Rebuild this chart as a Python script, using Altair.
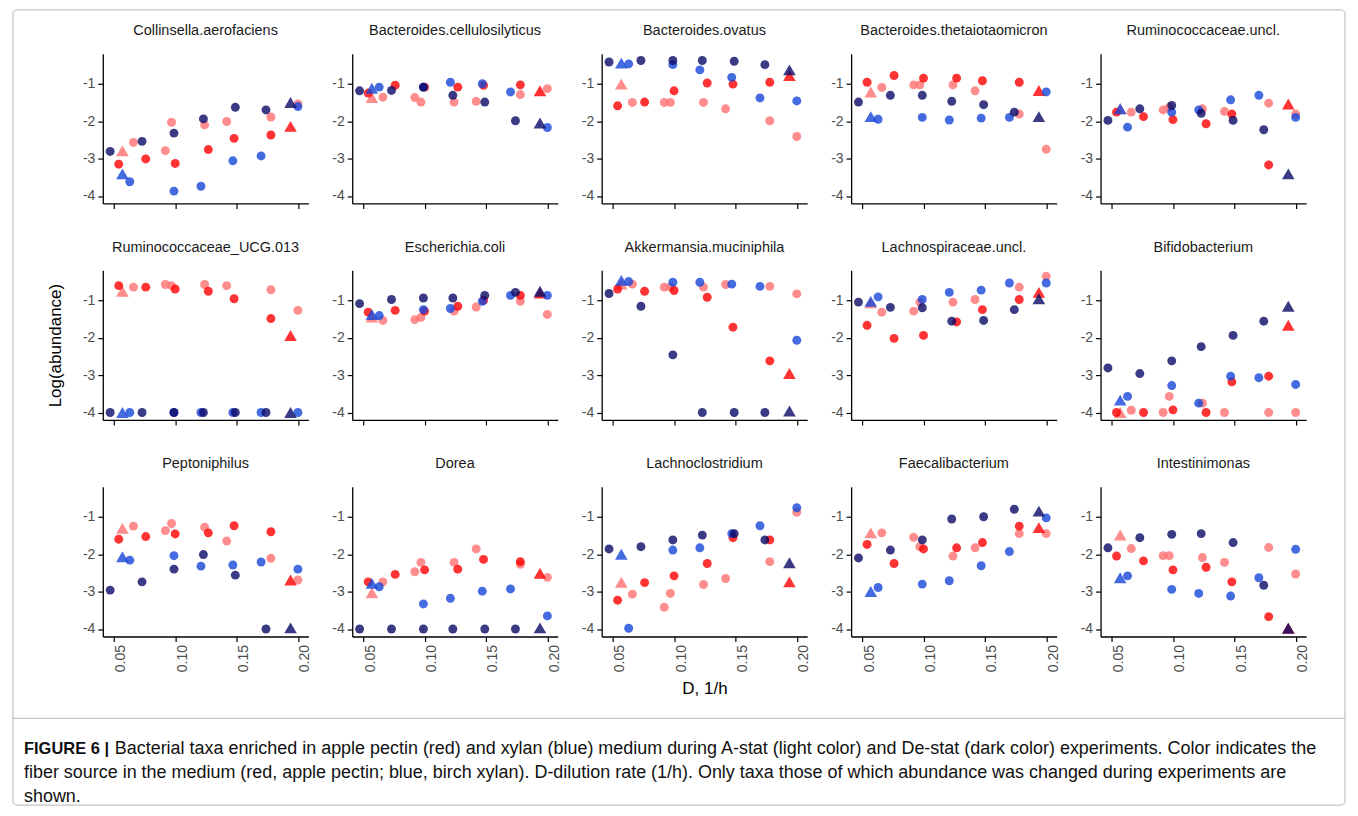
import altair as alt
import pandas as pd

FONT = "Liberation Sans"

# Dilution rates (1/h). A-stat series start with a triangle, De-stat series end with one.
D_A_PECTIN = [0.057, 0.066, 0.092, 0.097, 0.124, 0.142, 0.178, 0.200]
D_D_PECTIN = [0.054, 0.076, 0.100, 0.127, 0.148, 0.178, 0.194]
D_A_XYLAN = [0.057, 0.063, 0.099, 0.121, 0.147, 0.170, 0.200]
D_D_XYLAN = [0.047, 0.073, 0.099, 0.123, 0.149, 0.174, 0.194]

SERIES = ["A-stat pectin", "De-stat pectin", "A-stat xylan", "De-stat xylan"]
COLORS = ["#ff7070", "#ff0000", "#1646d9", "#0a0a66"]

TAXA = [
    "Collinsella.aerofaciens", "Bacteroides.cellulosilyticus", "Bacteroides.ovatus",
    "Bacteroides.thetaiotaomicron", "Ruminococcaceae.uncl.",
    "Ruminococcaceae_UCG.013", "Escherichia.coli", "Akkermansia.muciniphila",
    "Lachnospiraceae.uncl.", "Bifidobacterium",
    "Peptoniphilus", "Dorea", "Lachnoclostridium", "Faecalibacterium", "Intestinimonas",
]

# Log(abundance) per taxon: pA = A-stat pectin, pD = De-stat pectin, xA = A-stat xylan, xD = De-stat xylan
collinsella = dict(pA=[-2.79, -2.57, -2.79, -2.03, -2.10, -2.01, -1.89, -1.54],
                   pD=[-3.15, -3.01, -3.13, -2.76, -2.46, -2.37, -2.14],
                   xA=[-3.41, -3.62, -3.87, -3.74, -3.06, -2.93, -1.61],
                   xD=[-2.81, -2.54, -2.32, -1.94, -1.63, -1.70, -1.50])
b_cellulosilyticus = dict(pA=[-1.37, -1.36, -1.37, -1.49, -1.49, -1.47, -1.29, -1.13],
                          pD=[-1.25, -1.04, -1.09, -1.09, -1.04, -1.03, -1.19],
                          xA=[-1.12, -1.09, -1.09, -0.96, -1.00, -1.22, -2.17],
                          xD=[-1.19, -1.18, -1.09, -1.31, -1.49, -1.99, -2.05])
b_ovatus = dict(pA=[-1.01, -1.50, -1.50, -1.50, -1.50, -1.67, -1.99, -2.41],
                pD=[-1.59, -1.49, -1.19, -0.98, -1.01, -0.96, -0.78],
                xA=[-0.45, -0.47, -0.49, -0.63, -0.83, -1.38, -1.46],
                xD=[-0.42, -0.38, -0.38, -0.38, -0.40, -0.49, -0.63])
b_theta = dict(pA=[-1.22, -1.10, -1.03, -1.03, -1.03, -1.19, -1.81, -2.75],
               pD=[-0.96, -0.78, -0.85, -0.85, -0.92, -0.96, -1.18],
               xA=[-1.88, -1.95, -1.90, -1.97, -1.92, -1.90, -1.22],
               xD=[-1.49, -1.31, -1.31, -1.47, -1.56, -1.76, -1.88])
rumino_uncl = dict(pA=[-1.67, -1.76, -1.70, -1.63, -1.67, -1.74, -1.52, -1.81],
                   pD=[-1.76, -1.88, -1.96, -2.07, -1.81, -3.17, -1.54],
                   xA=[-1.67, -2.16, -1.76, -1.70, -1.43, -1.31, -1.90],
                   xD=[-1.98, -1.67, -1.58, -1.79, -1.98, -2.23, -3.41])
rumino_ucg013 = dict(pA=[-0.76, -0.65, -0.58, -0.61, -0.58, -0.61, -0.72, -1.27],
                     pD=[-0.61, -0.65, -0.70, -0.76, -0.96, -1.49, -1.94],
                     xA=[-4.0, -4.0, -4.0, -4.0, -4.0, -4.0, -4.0],
                     xD=[-4.0, -4.0, -4.0, -4.0, -4.0, -4.0, -4.0])
e_coli = dict(pA=[-1.45, -1.54, -1.52, -1.46, -1.29, -1.18, -1.03, -1.38],
              pD=[-1.32, -1.27, -1.29, -1.16, -1.00, -0.87, -0.81],
              xA=[-1.38, -1.41, -1.25, -1.22, -1.03, -0.87, -0.87],
              xD=[-1.09, -0.98, -0.94, -0.94, -0.87, -0.79, -0.76])
akkermansia = dict(pA=[-0.57, -0.57, -0.65, -0.65, -0.65, -0.58, -0.63, -0.83],
                   pD=[-0.70, -0.76, -0.74, -0.92, -1.72, -2.62, -2.96],
                   xA=[-0.47, -0.50, -0.52, -0.52, -0.57, -0.63, -2.07],
                   xD=[-0.82, -1.16, -2.46, -4.00, -4.00, -4.00, -3.96])
lachnospir_uncl = dict(pA=[-1.07, -1.32, -1.29, -1.05, -1.05, -0.98, -0.65, -0.36],
                       pD=[-1.67, -2.02, -1.94, -1.58, -1.25, -0.98, -0.79],
                       xA=[-1.03, -0.91, -0.98, -0.79, -0.73, -0.54, -0.54],
                       xD=[-1.05, -1.19, -1.20, -1.56, -1.54, -1.25, -0.96])
bifido = dict(pA=[-4.00, -3.94, -4.00, -3.57, -3.75, -4.00, -4.00, -4.00],
              pD=[-4.00, -4.00, -3.93, -4.00, -3.18, -3.03, -1.67],
              xA=[-3.67, -3.57, -3.28, -3.75, -3.03, -3.07, -3.25],
              xD=[-2.81, -2.96, -2.62, -2.24, -1.94, -1.56, -1.16])
peptoniphilus = dict(pA=[-1.31, -1.25, -1.37, -1.18, -1.28, -1.65, -2.11, -2.69],
                     pD=[-1.60, -1.53, -1.46, -1.43, -1.24, -1.40, -2.69],
                     xA=[-2.07, -2.16, -2.04, -2.32, -2.29, -2.21, -2.40],
                     xD=[-2.96, -2.74, -2.40, -2.01, -2.56, -4.00, -3.97])
dorea = dict(pA=[-3.03, -2.74, -2.47, -2.22, -2.22, -1.86, -2.27, -2.62],
             pD=[-2.74, -2.54, -2.42, -2.40, -2.14, -2.20, -2.51],
             xA=[-2.78, -2.87, -3.33, -3.18, -2.99, -2.93, -3.65],
             xD=[-4.00, -4.00, -4.00, -4.00, -4.00, -4.00, -3.97])
lachnoclostridium = dict(pA=[-2.75, -3.07, -3.42, -3.05, -2.81, -2.65, -2.20, -0.88],
                         pD=[-3.23, -2.76, -2.58, -2.25, -1.56, -1.62, -2.74],
                         xA=[-2.00, -3.98, -1.89, -1.83, -1.45, -1.24, -0.76],
                         xD=[-1.86, -1.80, -1.62, -1.49, -1.45, -1.62, -2.23])
faecali = dict(pA=[-1.43, -1.43, -1.55, -1.80, -2.05, -1.83, -1.45, -1.45],
               pD=[-1.74, -2.25, -1.86, -1.83, -1.69, -1.25, -1.29],
               xA=[-3.00, -2.89, -2.80, -2.71, -2.31, -1.93, -1.03],
               xD=[-2.10, -1.89, -1.62, -1.06, -1.00, -0.80, -0.85])
intestinimonas = dict(pA=[-1.49, -1.85, -2.04, -2.04, -2.09, -2.22, -1.82, -2.53],
                      pD=[-2.05, -2.18, -2.42, -2.35, -2.74, -3.67, -3.98],
                      xA=[-2.63, -2.58, -2.94, -3.05, -3.12, -2.63, -1.87],
                      xD=[-1.83, -1.56, -1.47, -1.45, -1.69, -2.83, -3.98])

VALUES = [collinsella, b_cellulosilyticus, b_ovatus, b_theta, rumino_uncl,
          rumino_ucg013, e_coli, akkermansia, lachnospir_uncl, bifido,
          peptoniphilus, dorea, lachnoclostridium, faecali, intestinimonas]

XTICKS = [0.05, 0.10, 0.15, 0.20]
YTICKS = [-1, -2, -3, -4]

CAPTION_BOLD = "FIGURE 6 |"
CAPTION_LINES = [
    "Bacterial taxa enriched in apple pectin (red) and xylan (blue) medium during A-stat (light color) and De-stat (dark color) experiments. Color indicates the",
    "fiber source in the medium (red, apple pectin; blue, birch xylan). D-dilution rate (1/h). Only taxa those of which abundance was changed during experiments are",
    "shown.",
]

# ---------- build long table ----------
rows = []
series_def = [("A-stat pectin", "pA", D_A_PECTIN, True),
              ("De-stat pectin", "pD", D_D_PECTIN, False),
              ("A-stat xylan", "xA", D_A_XYLAN, True),
              ("De-stat xylan", "xD", D_D_XYLAN, False)]
for taxon, vals in zip(TAXA, VALUES):
    for order, (sname, key, dvals, tri_first) in enumerate(series_def):
        ys = vals[key]
        n = len(ys)
        for i, (d, v) in enumerate(zip(dvals, ys)):
            tri = (i == 0) if tri_first else (i == n - 1)
            rows.append(dict(taxon=taxon, series=sname, D=d, value=v,
                             shape="triangle" if tri else "circle", ord=order))
df = pd.DataFrame(rows)

W, H = 206, 150
XDOM = [0.041, 0.2085]
YDOM = [-4.2, -0.2]
TICK_FS = 14
TITLE_FS = 17


def panel(idx, taxon):
    r, c = divmod(idx, 5)
    sub = df[df.taxon == taxon]
    xa = dict(values=XTICKS, format=".2f", labels=(r == 2), labelAngle=270,
              labelAlign="right", labelBaseline="top", labelPadding=3,
              labelFontSize=TICK_FS, tickSize=5, title=None)
    if r == 2 and c == 2:
        xa.update(title="D, 1/h", titleFontSize=TITLE_FS, titlePadding=9,
                  titleFontWeight="normal", titleColor="#000")
    ya = dict(values=YTICKS, labelExpr="'-' + abs(datum.value)", labelFontSize=TICK_FS,
              tickSize=5, labelPadding=3, title=None)
    if r == 1 and c == 0:
        ya.update(title="Log(abundance)", titleFontSize=TITLE_FS, titlePadding=18,
                  titleFontWeight="normal", titleColor="#000")
    return alt.Chart(sub).mark_point(filled=True, opacity=0.8, strokeWidth=0).encode(
        x=alt.X("D:Q", scale=alt.Scale(domain=XDOM, nice=False, zero=False), axis=alt.Axis(**xa)),
        y=alt.Y("value:Q", scale=alt.Scale(domain=YDOM, nice=False, zero=False), axis=alt.Axis(**ya)),
        color=alt.Color("series:N", scale=alt.Scale(domain=SERIES, range=COLORS), legend=None),
        shape=alt.Shape("shape:N", scale=alt.Scale(domain=["circle", "triangle"],
                                                    range=["circle", "triangle-up"]), legend=None),
        size=alt.Size("shape:N", scale=alt.Scale(domain=["circle", "triangle"], range=[80, 160]),
                      legend=None),
        order=alt.Order("ord:Q"),
    ).properties(
        width=W, height=H,
        title=alt.TitleParams(taxon, fontSize=14.5, font=FONT, fontWeight="normal",
                              color="#1a1a1a", offset=15, anchor="middle", frame="group"),
    )


panels = [panel(i, t) for i, t in enumerate(TAXA)]

# ---------- caption panel ----------
CAP_FS = 18
one = pd.DataFrame({"k": [0]})
frame = alt.Chart(one).mark_rect(fillOpacity=0, stroke="#b5b5b5", strokeWidth=1,
                                 cornerRadius=4).encode(
    x=alt.value(-90), x2=alt.value(1245), y=alt.value(-695), y2=alt.value(102))
sep = alt.Chart(one).mark_rule(color="#b5b5b5", strokeWidth=1).encode(
    x=alt.value(-90), x2=alt.value(1245), y=alt.value(15))
cap_df = pd.DataFrame({"line": CAPTION_LINES, "row": [0, 1, 2]})
cap_bold = alt.Chart(pd.DataFrame({"t": [CAPTION_BOLD]})).mark_text(
    font=FONT, fontSize=16.5, fontWeight="bold", align="left", baseline="middle", color="#111"
).encode(text="t:N", x=alt.value(-79), y=alt.value(46))
cap_first = alt.Chart(cap_df[cap_df.row == 0]).mark_text(
    font=FONT, fontSize=CAP_FS, align="left", baseline="middle", color="#111"
).encode(text="line:N", x=alt.value(12), y=alt.value(46))
cap_l2 = alt.Chart(cap_df[cap_df.row == 1]).mark_text(
    font=FONT, fontSize=CAP_FS, align="left", baseline="middle", color="#111"
).encode(text="line:N", x=alt.value(-79), y=alt.value(70))
cap_l3 = alt.Chart(cap_df[cap_df.row == 2]).mark_text(
    font=FONT, fontSize=CAP_FS, align="left", baseline="middle", color="#111"
).encode(text="line:N", x=alt.value(-79), y=alt.value(94))
caption = alt.layer(frame, sep, cap_bold, cap_first, cap_l2, cap_l3).properties(width=W, height=100)

chart = alt.concat(*panels, caption, columns=5, spacing={"row": 67, "column": 44},
                   bounds="flush", align="all").properties(
    padding={"left": 4, "top": 0, "right": 4, "bottom": 0}
).configure(font=FONT).configure_view(stroke=None).configure_axis(
    grid=False, domainColor="#000", domainWidth=1.3, tickColor="#000", tickWidth=1.2,
    labelColor="#4d4d4d", labelFont=FONT, titleFont=FONT, titleColor="#000",
    titleFontWeight="normal",
)

chart.save("out.html", embed_options={"renderer": "svg", "actions": False})
